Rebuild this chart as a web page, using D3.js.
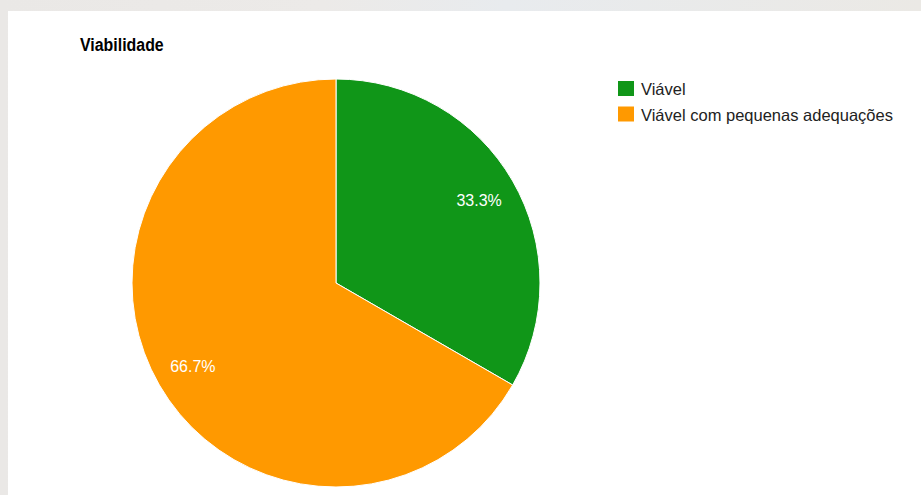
<!DOCTYPE html>
<html>
<head>
<meta charset="utf-8">
<script src="https://cdn.jsdelivr.net/npm/d3@7"></script>
<style>
  html, body { margin: 0; padding: 0; }
  body { width: 921px; height: 495px; overflow: hidden; background: #ecebe9; }
  svg { display: block; }
</style>
</head>
<body>
<svg id="chart" width="921" height="495"></svg>
<script>
// Answers to "Viabilidade"
const categories = ["Viável", "Viável com pequenas adequações"];
const values = [1, 2];
const colors = ["#109618", "#ff9900"];
const title = "Viabilidade";

const svg = d3.select("#chart");
const font = "Liberation Sans, Arial, Helvetica, sans-serif";

// faint backdrop strip and white card
const defs = svg.append("defs");
const grad = defs.append("linearGradient").attr("id", "bg").attr("x1", 0).attr("x2", 1);
grad.append("stop").attr("offset", "0%").attr("stop-color", "#eae8e6");
grad.append("stop").attr("offset", "35%").attr("stop-color", "#eceae8");
grad.append("stop").attr("offset", "55%").attr("stop-color", "#e8ebee");
grad.append("stop").attr("offset", "100%").attr("stop-color", "#ebe9e5");
svg.append("rect").attr("width", 921).attr("height", 495).attr("fill", "url(#bg)");
svg.append("rect").attr("x", 8).attr("y", 11).attr("width", 913).attr("height", 484).attr("fill", "#ffffff");

svg.append("text")
  .attr("transform", "translate(80,51) scale(0.86,1)")
  .attr("font-family", font)
  .attr("font-size", 18.5).attr("font-weight", "bold")
  .attr("fill", "#000")
  .text(title);

const cx = 336, cy = 283, r = 204;
const total = d3.sum(values);
const pie = d3.pie().sort(null).value(d => d)(values);
const arc = d3.arc().innerRadius(0).outerRadius(r);
const labelArc = d3.arc().innerRadius(r * 0.81).outerRadius(r * 0.81);

const g = svg.append("g").attr("transform", `translate(${cx},${cy})`);
g.selectAll("path.slice")
  .data(pie)
  .join("path")
  .attr("class", "slice")
  .attr("d", arc)
  .attr("fill", (d, i) => colors[i])
  .attr("stroke", "#ffffff")
  .attr("stroke-width", 1);

const fmt = d3.format(".1%");
g.selectAll("text.pct")
  .data(pie)
  .join("text")
  .attr("class", "pct")
  .attr("x", d => labelArc.centroid(d)[0])
  .attr("y", d => labelArc.centroid(d)[1] + 6)
  .attr("text-anchor", "middle")
  .attr("font-family", font)
  .attr("font-size", 16)
  .attr("fill", "#ffffff")
  .text(d => fmt(d.data / total));

// legend
const legend = svg.append("g").attr("transform", "translate(618,81)");
const item = legend.selectAll("g")
  .data(categories)
  .join("g")
  .attr("transform", (d, i) => `translate(0,${i * 25.5})`);
item.append("rect")
  .attr("width", 16).attr("height", 15)
  .attr("fill", (d, i) => colors[i]);
item.append("text")
  .attr("x", 23).attr("y", 14)
  .attr("font-family", font)
  .attr("font-size", 16.5)
  .attr("fill", "#222222")
  .text(d => d);
</script>
</body>
</html>
